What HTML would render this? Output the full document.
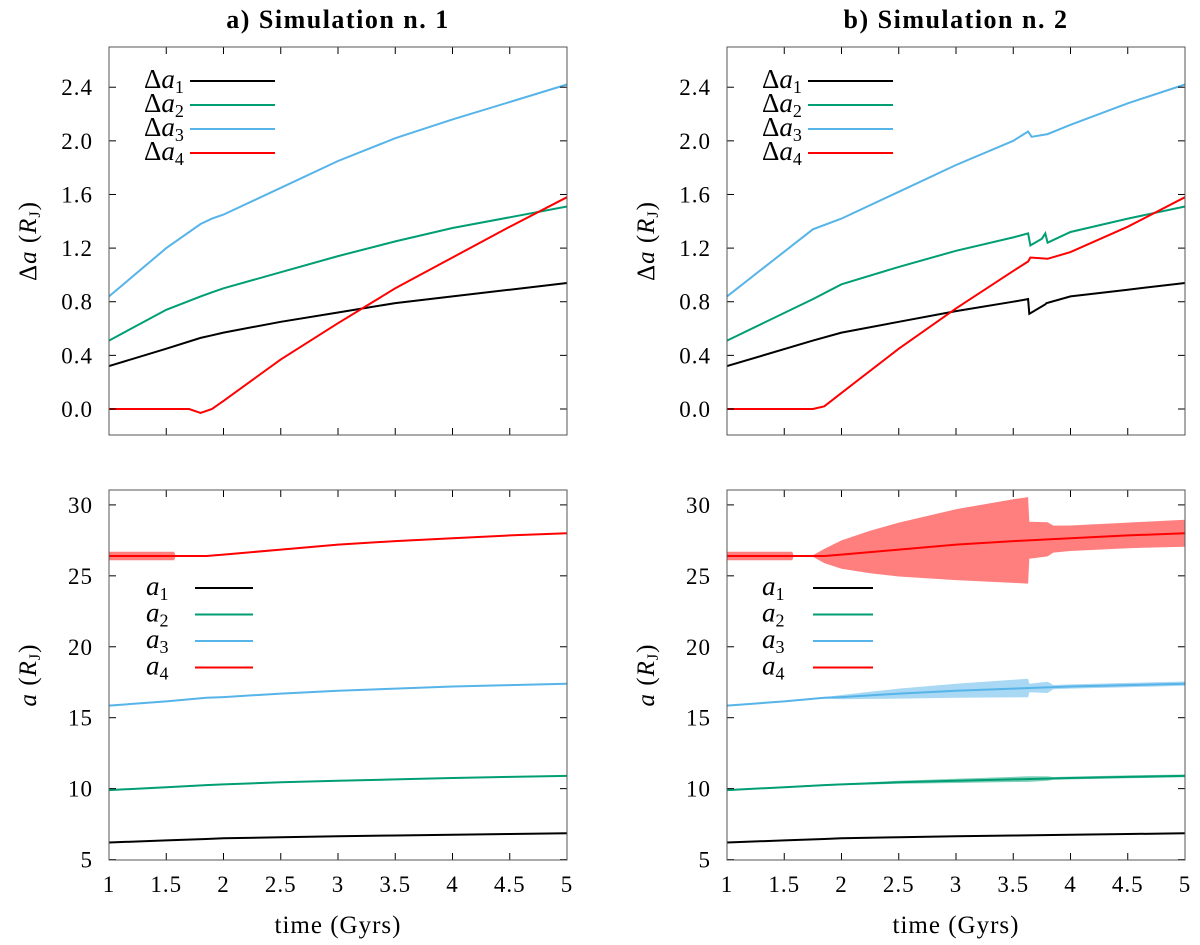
<!DOCTYPE html>
<html><head><meta charset="utf-8"><style>
html,body{margin:0;padding:0;background:#fff;}
svg{display:block;font-family:"Liberation Serif",serif;}
</style></head><body>
<svg id="fig" width="1200" height="945" viewBox="0 0 1200 945"></svg>
<script>
// ---- data ----
const xTicks=[1,1.5,2,2.5,3,3.5,4,4.5,5];
const xTickLabels=["1","1.5","2","2.5","3","3.5","4","4.5","5"];
const topTicks=[0,0.4,0.8,1.2,1.6,2.0,2.4];
const topTickLabels=["0.0","0.4","0.8","1.2","1.6","2.0","2.4"];
const botTicks=[5,10,15,20,25,30];
const botTickLabels=["5","10","15","20","25","30"];
const colors=["#000000","#009e73","#56b4e9","#ff0000"];
// Sim 1, Δa
const s1T=[1,1.5,1.8,1.9,2,2.5,3,3.5,4,4.5,5];
const s1Da1=[0.32,0.45,0.53,0.55,0.57,0.65,0.72,0.79,0.84,0.89,0.94];
const s1Da2=[0.51,0.74,0.84,0.87,0.9,1.02,1.14,1.25,1.35,1.43,1.51];
const s1Da3=[0.84,1.2,1.38,1.42,1.45,1.65,1.85,2.02,2.16,2.29,2.42];
const s1Da4T=[1,1.5,1.7,1.8,1.9,2,2.5,3,3.5,4,4.5,5];
const s1Da4=[0,0,0,-0.03,0,0.06,0.37,0.64,0.9,1.13,1.36,1.58];
// Sim 2, Δa
const s2T1=[1,1.75,2,2.5,3,3.5,3.63,3.64,3.78,3.79,4,4.5,5];
const s2Da1=[0.32,0.51,0.57,0.65,0.73,0.8,0.82,0.71,0.78,0.79,0.84,0.89,0.94];
const s2T2=[1,1.75,2,2.5,3,3.5,3.63,3.65,3.75,3.78,3.8,4,4.5,5];
const s2Da2=[0.51,0.82,0.93,1.06,1.18,1.28,1.31,1.22,1.27,1.31,1.24,1.32,1.42,1.51];
const s2T3=[1,1.75,2,2.5,3,3.5,3.63,3.66,3.8,4,4.5,5];
const s2Da3=[0.84,1.34,1.42,1.62,1.82,2.0,2.07,2.03,2.05,2.12,2.28,2.42];
const s2T4=[1,1.75,1.85,2,2.5,3,3.5,3.63,3.65,3.8,4,4.5,5];
const s2Da4=[0,0,0.02,0.12,0.45,0.75,1.03,1.1,1.13,1.12,1.17,1.36,1.58];
// Semi-major axes
const aT=[1,1.5,1.85,2,2.5,3,3.5,4,4.5,5];
const a1=[6.2,6.35,6.45,6.5,6.58,6.65,6.7,6.75,6.8,6.85];
const a2=[9.9,10.1,10.25,10.3,10.45,10.55,10.65,10.75,10.83,10.9];
const a3=[15.85,16.15,16.4,16.45,16.7,16.9,17.05,17.2,17.3,17.4];
const a4=[26.4,26.4,26.4,26.5,26.85,27.2,27.45,27.65,27.85,28.0];
// Sim 2 oscillation half-widths
const bandT=[1,1.57,1.58,1.75,1.85,2,2.25,2.5,3,3.5,3.63,3.64,3.8,3.85,4,4.5,5];
const a4Half=[0.3,0.3,0.05,0.05,0.5,1.0,1.5,1.9,2.5,2.95,3.05,1.3,1.2,0.95,0.9,0.9,0.95];
const a3Half=[0,0,0,0,0.05,0.15,0.25,0.35,0.5,0.62,0.65,0.3,0.4,0.15,0.15,0.15,0.15];
const a2Half=[0,0,0,0,0,0.05,0.08,0.1,0.15,0.18,0.2,0.2,0.15,0.1,0.1,0.1,0.1];
const s1BandT=[1,1.57,1.58,5];
const s1A4Half=[0.3,0.3,0,0];

const NS="http://www.w3.org/2000/svg";
const svg=document.getElementById('fig');
function mk(tag,attrs,parent){const e=document.createElementNS(NS,tag);for(const k in attrs)e.setAttribute(k,attrs[k]);(parent||svg).appendChild(e);return e;}
function interp(ts,vs,t){for(let i=0;i<ts.length-1;i++){if(t>=ts[i]&&t<=ts[i+1]){const f=(t-ts[i])/((ts[i+1]-ts[i])||1);return vs[i]+f*(vs[i+1]-vs[i]);}}return vs[vs.length-1];}

function panel(name,x0,x1,y0,y1,ymin,ymax,ticks,tlabels,showX){
  const g=mk('g',{});
  
  
  const sx=v=>x0+(v-1)/4*(x1-x0);
  const sy=v=>y1-(v-ymin)/(ymax-ymin)*(y1-y0);
  return {g,sx,sy,x0,x1,y0,y1,ticks,tlabels,showX};
}
function frame(p){
  const {g,sx,sy,x0,x1,y0,y1}=p;
  xTicks.forEach((t,i)=>{
    const x=sx(t);
    const a=mk('line',{x1:x,x2:x,y1:y1,y2:y1-7,stroke:'#000','stroke-width':1},g);
    
    mk('line',{x1:x,x2:x,y1:y0,y2:y0+7,stroke:'#000','stroke-width':1},g);
    if(p.showX){const tx=mk('text',{x:x,y:y1+32,'font-size':23,'text-anchor':'middle','letter-spacing':1},g);tx.textContent=xTickLabels[i];
      }
  });
  p.ticks.forEach((t,i)=>{
    const y=sy(t);
    mk('line',{x1:x0,x2:x0+7,y1:y,y2:y,stroke:'#000','stroke-width':1},g);
    mk('line',{x1:x1,x2:x1-7,y1:y,y2:y,stroke:'#000','stroke-width':1},g);
    const tx=mk('text',{x:x0-16,y:y+8,'font-size':23,'text-anchor':'end','letter-spacing':1},g);tx.textContent=p.tlabels[i];
    
  });
  const r=mk('rect',{x:x0,y:y0,width:x1-x0,height:y1-y0,fill:'none',stroke:'#555','stroke-width':1},g);
  
}
function line(p,ts,vs,c,name){
  const pts=ts.map((t,i)=>p.sx(t).toFixed(1)+','+p.sy(vs[i]).toFixed(1)).join(' ');
  const l=mk('polyline',{points:pts,fill:'none',stroke:c,'stroke-width':2},p.g);
  
}
function band(p,centerT,centerV,bt,half,c,name){
  const up=[],dn=[];
  bt.forEach((t,i)=>{const v=interp(centerT,centerV,t);up.push(p.sx(t).toFixed(1)+','+p.sy(v+half[i]).toFixed(1));dn.unshift(p.sx(t).toFixed(1)+','+p.sy(v-half[i]).toFixed(1));});
  const b=mk('polygon',{points:up.concat(dn).join(' '),fill:c,stroke:'none'},p.g);
  
}
function legend(p,x,y,dy,sym,lx1,lx2){
  for(let i=0;i<4;i++){
    const yy=y+i*dy;
    const t=mk('text',{x:x,y:yy+7,'font-size':27,'font-style':'italic'},p.g);
    
    t.innerHTML=(sym==='d'?'<tspan font-style="normal">Δ</tspan>a':'a')+'<tspan font-size="18" font-style="normal" dy="5">'+(i+1)+'</tspan>';
    const l=mk('line',{x1:lx1,x2:lx2,y1:yy,y2:yy,stroke:colors[i],'stroke-width':2},p.g);
    
  }
}
function text(s,attrs,name){const t=mk('text',attrs);t.innerHTML=s;return t;}

const TL=[109,567],TR=[727,1185];
const p1=panel('panel-sim1-delta',TL[0],TL[1],47,435,-0.194,2.7,topTicks,topTickLabels,false);
line(p1,s1T,s1Da1,colors[0],'series-da1');line(p1,s1T,s1Da2,colors[1],'series-da2');
line(p1,s1T,s1Da3,colors[2],'series-da3');line(p1,s1Da4T,s1Da4,colors[3],'series-da4');
legend(p1,144,81,24,'d',190,275);frame(p1);
const p2=panel('panel-sim2-delta',TR[0],TR[1],47,435,-0.194,2.7,topTicks,topTickLabels,false);
line(p2,s2T1,s2Da1,colors[0],'series-da1');line(p2,s2T2,s2Da2,colors[1],'series-da2');
line(p2,s2T3,s2Da3,colors[2],'series-da3');line(p2,s2T4,s2Da4,colors[3],'series-da4');
legend(p2,762,81,24,'d',808,893);frame(p2);
const p3=panel('panel-sim1-a',TL[0],TL[1],490,860,4.97,31.05,botTicks,botTickLabels,true);
band(p3,aT,a4,s1BandT,s1A4Half,'#ff7f7f','band-a4');
line(p3,aT,a1,colors[0],'series-a1');line(p3,aT,a2,colors[1],'series-a2');
line(p3,aT,a3,colors[2],'series-a3');line(p3,aT,a4,colors[3],'series-a4');
legend(p3,146,588,26.5,'a',195,253);frame(p3);
const p4=panel('panel-sim2-a',TR[0],TR[1],490,860,4.97,31.05,botTicks,botTickLabels,true);
band(p4,aT,a4,bandT,a4Half,'#ff7f7f','band-a4');
band(p4,aT,a3,bandT,a3Half,'#a8d8f4','band-a3');
band(p4,aT,a2,bandT,a2Half,'#7fcfb9','band-a2');
line(p4,aT,a1,colors[0],'series-a1');line(p4,aT,a2,colors[1],'series-a2');
line(p4,aT,a3,colors[2],'series-a3');line(p4,aT,a4,colors[3],'series-a4');
legend(p4,762,588,26.5,'a',813,873);frame(p4);

text('a) Simulation n. 1',{x:338,y:28,'font-size':26,'font-weight':'bold','text-anchor':'middle','letter-spacing':1.5},'title-sim1');
text('b) Simulation n. 2',{x:956,y:28,'font-size':26,'font-weight':'bold','text-anchor':'middle','letter-spacing':1.5},'title-sim2');
text('time (Gyrs)',{x:338,y:933,'font-size':25,'text-anchor':'middle','letter-spacing':1},'x-axis-title-left');
text('time (Gyrs)',{x:956,y:933,'font-size':25,'text-anchor':'middle','letter-spacing':1},'x-axis-title-right');
const yt='<tspan font-style="italic">R</tspan><tspan font-size="16" dy="4">J</tspan><tspan dy="-4">)</tspan>';
const yl=[['Δ<tspan font-style="italic">a</tspan> ('+yt,36,241],['Δ<tspan font-style="italic">a</tspan> ('+yt,654,241],
          ['<tspan font-style="italic">a</tspan> ('+yt,36,675],['<tspan font-style="italic">a</tspan> ('+yt,654,675]];
yl.forEach((d,i)=>text(d[0],{x:d[1],y:d[2],'font-size':25,'text-anchor':'middle','letter-spacing':1,transform:'rotate(-90 '+d[1]+' '+d[2]+')'},'y-axis-title-'+(i+1)));
</script>
</body></html>
